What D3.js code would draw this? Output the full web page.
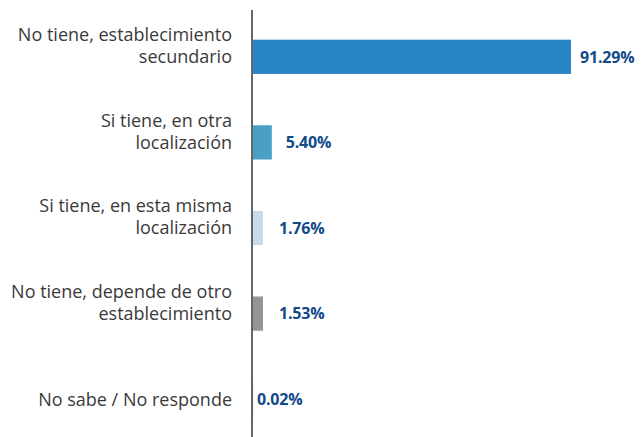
<!DOCTYPE html>
<html><head><meta charset="utf-8">
<script src="https://cdn.jsdelivr.net/npm/d3@7"></script>
<style>body{margin:0;background:#fff}svg{display:block}</style>
</head><body><svg id="c" width="644" height="437"></svg>
<script>
const categories = [
  ["No tiene, establecimiento", "secundario"],
  ["Si tiene, en otra", "localización"],
  ["Si tiene, en esta misma", "localización"],
  ["No tiene, depende de otro", "establecimiento"],
  ["No sabe / No responde"]
];
const values = [91.29, 5.40, 1.76, 1.53, 0.02];
const valueLabels = ["91.29%", "5.40%", "1.76%", "1.53%", "0.02%"];
const colors = ["#2785c6", "#4aa0c4", "#c6dcec", "#959595", "#1f4e8c"];

const svg = d3.select("#c");
const x0 = 253;
const x = d3.scaleLinear().domain([0, 91.29]).range([x0, 571]);
const ids = d3.range(values.length);
const y = d3.scaleBand().domain(ids).range([14, 442]).paddingInner(0.6).paddingOuter(0.3);

svg.append("line").attr("x1", 252).attr("x2", 252).attr("y1", 10).attr("y2", 437)
  .attr("stroke", "#333").attr("stroke-width", 1.5);

const bw = d => { const w = x(values[d]) - x0; return values[d] >= 1 ? Math.max(w, 10) : w; };

svg.selectAll("rect.bar").data(ids).join("rect").attr("class", "bar")
  .attr("x", x0).attr("y", d => y(d)).attr("width", bw).attr("height", y.bandwidth())
  .attr("fill", (d) => colors[d]);

const gap = [9, 14, 16, 16, 4];
svg.selectAll("text.val").data(ids).join("text").attr("class", "val")
  .attr("x", d => x0 + bw(d) + gap[d]).attr("y", d => y(d) + y.bandwidth() / 2)
  .attr("dy", "0.36em").attr("fill", "#124a89")
  .attr("font-family", "'Open Sans', sans-serif").attr("font-weight", 700).attr("font-size", 16)
  .attr("letter-spacing", -0.2)
  .text(d => valueLabels[d]);

const lab = svg.selectAll("text.cat").data(ids).join("text").attr("class", "cat")
  .attr("text-anchor", "end").attr("fill", "#3a3a3a")
  .attr("font-family", "'Open Sans', sans-serif").attr("font-size", 18);
lab.each(function(d) {
  const lines = categories[d];
  const cy = y(d) + y.bandwidth() / 2;
  lines.forEach((t, i) => {
    d3.select(this).append("tspan").attr("x", 232)
      .attr("y", cy - (lines.length - 1 - i) * 22).attr("dy", "0.35em").text(t);
  });
});
</script></body></html>
